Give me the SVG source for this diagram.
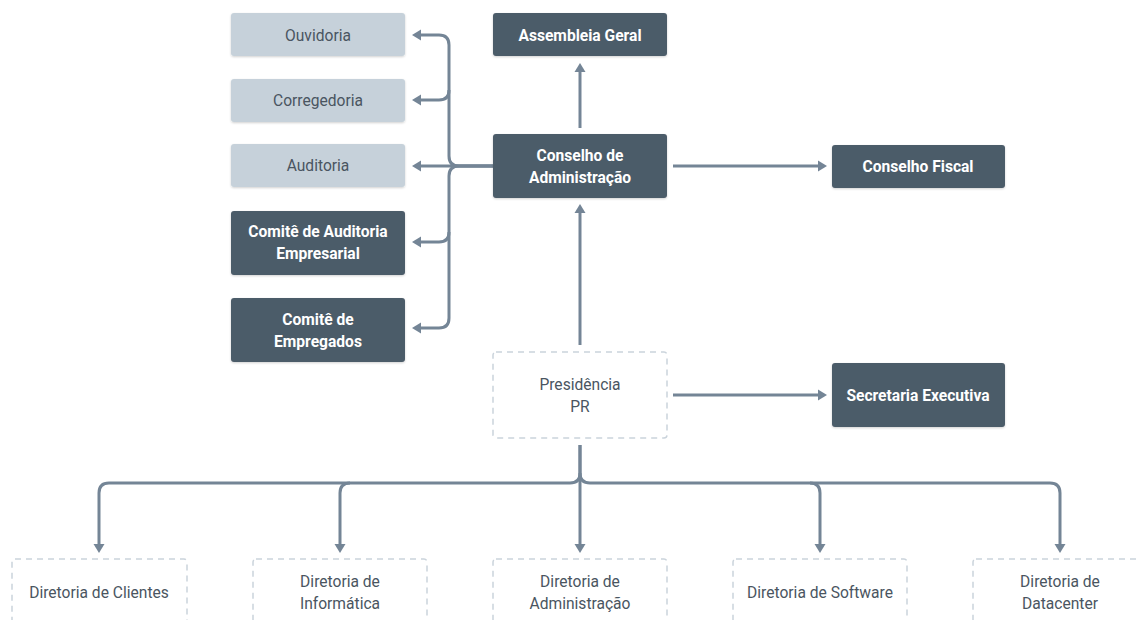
<svg xmlns="http://www.w3.org/2000/svg" width="1137" height="620" viewBox="0 0 1137 620">
  <style>
    .dark { fill: #4b5b69; filter: url(#shadow); }
    .light { fill: #c6d1da; filter: url(#shadow); }
    .dash { fill: #ffffff; stroke: #cad3db; stroke-width: 1.5; stroke-dasharray: 6 5; }
    .wire { fill: none; stroke: #748596; stroke-width: 3; }
    .arrow { marker-end: url(#head); }
    text { font-family: Roboto, "Liberation Sans", sans-serif; font-size: 15.6px; text-anchor: middle; dominant-baseline: central; }
    .tw { fill: #ffffff; font-weight: 700; }
    .td { fill: #4a5561; }
  </style>
  <defs>
    <filter id="shadow" x="-10%" y="-10%" width="120%" height="130%">
      <feDropShadow dx="0" dy="1" stdDeviation="1.2" flood-color="#000000" flood-opacity="0.18"/>
    </filter>
    <marker id="head" markerUnits="userSpaceOnUse" markerWidth="11" markerHeight="12" refX="2" refY="6" orient="auto">
      <path d="M0,0.5 L9,6 L0,11.5 z" fill="#748596"/>
    </marker>
  </defs>

  <!-- connectors -->
  <g id="connectors">
    <path class="wire arrow" d="M580 128 V70"/>
    <path class="wire arrow" d="M673 166 H820"/>
    <path class="wire arrow" d="M673 395 H820"/>
    <path class="wire arrow" d="M580 345 V211"/>
    <!-- left committee bundle -->
    <path class="wire arrow" d="M493 166 H419"/>
    <path class="wire arrow" d="M493 166 H459 Q449 166 449 156 V45 Q449 35 439 35 H419"/>
    <path class="wire arrow" d="M449 90 Q449 100 439 100 H419"/>
    <path class="wire arrow" d="M449 232 Q449 242 439 242 H419"/>
    <path class="wire arrow" d="M493 166 H459 Q449 166 449 176 V318 Q449 328 439 328 H419"/>
    <!-- directorates -->
    <path class="wire arrow" d="M580 445 V473 Q580 483 570 483 H109 Q99 483 99 493 V546"/>
    <path class="wire arrow" d="M580 473 Q580 483 590 483 H1050 Q1060 483 1060 493 V546"/>
    <path class="wire arrow" d="M580 445 V546"/>
    <path class="wire arrow" d="M350 483 Q340 483 340 493 V546"/>
    <path class="wire arrow" d="M810 483 Q820 483 820 493 V546"/>
  </g>

  <g id="ouvidoria">
    <rect class="light" x="231" y="13" width="174" height="43" rx="3"/>
    <text class="td" x="318" y="36">Ouvidoria</text>
  </g>
  <g id="corregedoria">
    <rect class="light" x="231" y="79" width="174" height="43" rx="3"/>
    <text class="td" x="318" y="101">Corregedoria</text>
  </g>
  <g id="auditoria">
    <rect class="light" x="231" y="144" width="174" height="43" rx="3"/>
    <text class="td" x="318" y="166">Auditoria</text>
  </g>
  <g id="comite-auditoria">
    <rect class="dark" x="231" y="211" width="174" height="64" rx="3"/>
    <text class="tw" x="318" y="232">Comitê de Auditoria</text>
    <text class="tw" x="318" y="254">Empresarial</text>
  </g>
  <g id="comite-empregados">
    <rect class="dark" x="231" y="298" width="174" height="64" rx="3"/>
    <text class="tw" x="318" y="320">Comitê de</text>
    <text class="tw" x="318" y="342">Empregados</text>
  </g>

  <g id="assembleia">
    <rect class="dark" x="493" y="13" width="174" height="43" rx="3"/>
    <text class="tw" x="580" y="36">Assembleia Geral</text>
  </g>
  <g id="conselho-adm">
    <rect class="dark" x="493" y="134" width="174" height="64" rx="3"/>
    <text class="tw" x="580" y="156">Conselho de</text>
    <text class="tw" x="580" y="178">Administração</text>
  </g>
  <g id="conselho-fiscal">
    <rect class="dark" x="832" y="145" width="173" height="43" rx="3"/>
    <text class="tw" x="918" y="167">Conselho Fiscal</text>
  </g>
  <g id="presidencia">
    <rect class="dash" x="493" y="352" width="174" height="86" rx="3"/>
    <text class="td" x="580" y="385">Presidência</text>
    <text class="td" x="580" y="407">PR</text>
  </g>
  <g id="secretaria">
    <rect class="dark" x="832" y="363" width="173" height="64" rx="3"/>
    <text class="tw" x="918" y="396">Secretaria Executiva</text>
  </g>

  <g id="dir-clientes">
    <rect class="dash" x="12" y="559" width="175" height="86" rx="3"/>
    <text class="td" x="99" y="593">Diretoria de Clientes</text>
  </g>
  <g id="dir-informatica">
    <rect class="dash" x="253" y="559" width="174" height="86" rx="3"/>
    <text class="td" x="340" y="582">Diretoria de</text>
    <text class="td" x="340" y="604">Informática</text>
  </g>
  <g id="dir-administracao">
    <rect class="dash" x="493" y="559" width="174" height="86" rx="3"/>
    <text class="td" x="580" y="582">Diretoria de</text>
    <text class="td" x="580" y="604">Administração</text>
  </g>
  <g id="dir-software">
    <rect class="dash" x="733" y="559" width="174" height="86" rx="3"/>
    <text class="td" x="820" y="593">Diretoria de Software</text>
  </g>
  <g id="dir-datacenter">
    <rect class="dash" x="973" y="559" width="174" height="86" rx="3"/>
    <text class="td" x="1060" y="582">Diretoria de</text>
    <text class="td" x="1060" y="604">Datacenter</text>
  </g>
</svg>
